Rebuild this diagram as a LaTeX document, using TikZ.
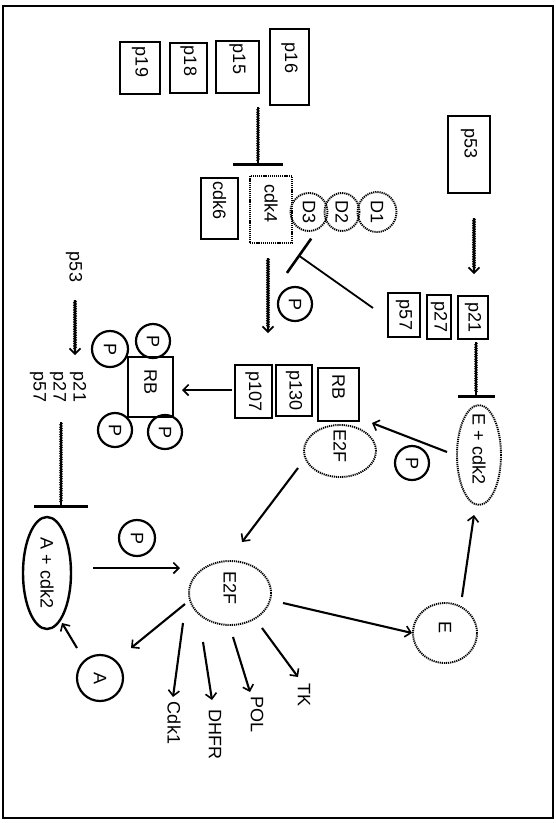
\documentclass[tikz,border=0pt]{standalone}
\usepackage{fontspec}
\setmainfont{Liberation Sans}
\usetikzlibrary{arrows.meta,decorations.pathmorphing,shapes.geometric}
\newcommand{\rtxt}[1]{\rotatebox{-90}{#1}}
\newcommand{\rtup}[2]{\raisebox{#1}[\height][\depth]{\rotatebox{-90}{#2}}}
\begin{document}
\begin{tikzpicture}[x=1pt,y=-1pt,
  txt/.style={font=\fontsize{18}{18}\selectfont, inner sep=0pt},
  box/.style={txt, draw, rectangle, line width=2.5pt},
  dotbox/.style={txt, draw, rectangle, line width=2pt, dash pattern=on 1.2pt off 0.9pt},
  dotell/.style={txt, draw, ellipse, line width=1.9pt, dash pattern=on 1.2pt off 0.9pt},
  solell/.style={txt, draw, ellipse, line width=2.4pt},
  pc/.style={txt, draw, circle, line width=2.2pt},
  arr/.style={line width=2.1pt, -{Straight Barb[length=5.5pt,width=11pt,line width=1.6pt]}},
  wavy/.style={decorate, decoration={zigzag, amplitude=0.6pt, segment length=2.4pt, pre length=1pt, post length=5pt}},
  inh/.style={line width=1.8pt, -{Bar[width=#1, line width=2.6pt]}}
]
\useasboundingbox (0,0) rectangle (556,823);
\draw[line width=1.6pt] (3,6) rectangle (553,818);

% top inhibitor boxes
\node[box, minimum width=40pt, minimum height=52pt] (p19) at (140,68) {\rtup{6pt}{p19}};
\node[box, minimum width=37pt, minimum height=50pt] (p18) at (188.5,68) {\rtup{7pt}{p18}};
\node[box, minimum width=43pt, minimum height=52pt] (p15) at (237.5,67) {\rtup{8pt}{p15}};
\node[box, minimum width=39pt, minimum height=76pt] (p16) at (289.5,67) {\rtup{9pt}{p16}};

% cdk / cyclin D
\node[box, minimum width=37pt, minimum height=61pt] (cdk6) at (219.5,208.5) {\rtup{8pt}{cdk6}};
\node[dotbox, minimum width=42pt, minimum height=67pt] (cdk4) at (271,209.5) {\rtup{6pt}{cdk4}};
\node[dotell, minimum width=37pt, minimum height=38pt] (D3) at (309,212) {\rtxt{D3}};
\node[dotell, minimum width=35pt, minimum height=38pt] (D2) at (342,212) {\rtxt{D2}};
\node[dotell, minimum width=39pt, minimum height=40pt] (D1) at (377,212) {\rtxt{D1}};

% p53 and CKIs
\node[box, minimum width=42pt, minimum height=77pt] (p53) at (469,154.5) {\rtup{11pt}{p53}};
\node[box, minimum width=30pt, minimum height=43pt] (p21) at (473,317.5) {\rtxt{p21}};
\node[box, minimum width=24pt, minimum height=44pt] (p27) at (439,317) {\rtxt{p27}};
\node[box, minimum width=32pt, minimum height=44pt] (p57) at (404,315) {\rtxt{p57}};

\node[pc, minimum size=34pt] (Pa) at (295,304) {\rtxt{P}};

% pocket proteins
\node[box, minimum width=37pt, minimum height=53pt] (p107) at (253.5,391.5) {\rtxt{p107}};
\node[box, minimum width=36pt, minimum height=51pt] (p130) at (294,390.5) {\rtxt{p130}};
\node[box, minimum width=41pt, minimum height=53pt] (RBr) at (338.5,394.5) {\rtup{8pt}{RB}};
\node[dotell, minimum width=72pt, minimum height=52pt] (E2Fu) at (340,451) {\rtup{5pt}{E2F}};
\node[pc, minimum size=34pt] (Pb) at (412,463) {\rtxt{P}};
\node[dotell, minimum width=44pt, minimum height=96pt] (Ecdk2) at (479,455) {\rtup{6pt}{E + cdk2}};

% phosphorylated RB
\node[box, minimum width=45pt, minimum height=60pt] (RBl) at (150.5,387) {\rtup{5pt}{RB}};
\node[pc, minimum size=34pt] (P1) at (153,341) {\rtxt{P}};
\node[pc, minimum size=36pt] (P2) at (110,349) {\rtxt{P}};
\node[pc, minimum size=34pt] (P3) at (115,430) {\rtxt{P}};
\node[pc, minimum size=34pt] (P4) at (165,432) {\rtxt{P}};

% left labels
\node[txt] (p53l) at (74,267) {\rtxt{p53}};
\node[txt] (p21l) at (78,387) {\rtxt{p21}};
\node[txt] (p27l) at (58,387) {\rtxt{p27}};
\node[txt] (p57l) at (38,387) {\rtxt{p57}};

% bottom
\node[dotell, minimum width=82pt, minimum height=64pt] (E2Fb) at (230,593) {\rtup{5pt}{E2F}};
\node[dotell, minimum width=64pt, minimum height=60pt] (E) at (445,633) {\rtup{6pt}{E}};
\node[solell, minimum width=48pt, minimum height=112pt] (Acdk2) at (47,573) {\rtxt{A + cdk2}};
\node[pc, minimum size=36pt] (Pc) at (137,538) {\rtxt{P}};
\node[pc, minimum size=46pt] (A) at (100,678) {\rtxt{A}};
\node[txt] (Cdk1) at (174,723) {\rtxt{Cdk1}};
\node[txt] (DHFR) at (215,734) {\rtxt{DHFR}};
\node[txt] (POL) at (257,714) {\rtxt{POL}};
\node[txt] (TK) at (304,695) {\rtxt{TK}};

% connector end points
\coordinate (i1a) at (258,107); \coordinate (i1b) at (258,166);
\coordinate (q1) at (474,218);  \coordinate (q2) at (474,274);
\coordinate (c1) at (373,308);  \coordinate (c2) at (298,255);
\coordinate (k1) at (268,258);  \coordinate (k2) at (268,333);
\coordinate (i2a) at (476,342); \coordinate (i2b) at (476,398);
\coordinate (f1) at (447,452);  \coordinate (f2) at (372,423);
\coordinate (g1) at (462,597);  \coordinate (g2) at (474,515);
\coordinate (h1) at (283,603);  \coordinate (h2) at (412,633);
\coordinate (u1) at (298,468);  \coordinate (u2) at (242,542);
\coordinate (a1) at (93,568);   \coordinate (a2) at (180,568);
\coordinate (j1) at (61,422);   \coordinate (j2) at (61,508);
\coordinate (m1) at (77,648);   \coordinate (m2) at (62,623);
\coordinate (l1) at (185,604);  \coordinate (l2) at (131,648);
\coordinate (t1a) at (183,623); \coordinate (t1b) at (173,697);
\coordinate (t2a) at (203,642); \coordinate (t2b) at (212,700);
\coordinate (t3a) at (233,637); \coordinate (t3b) at (250,692);
\coordinate (t4a) at (262,628); \coordinate (t4b) at (298,677);
\coordinate (n1) at (232,390);  \coordinate (n2) at (182,390);
\coordinate (o1) at (75,300);   \coordinate (o2) at (75,355);

% connectors
\draw[inh=50pt, wavy] (i1a) -- (i1b);
\draw[arr, wavy] (q1) -- (q2);
\draw[inh=42pt] (c1) -- (c2);
\draw[arr, wavy] (k1) -- (k2);
\draw[inh=37pt, wavy] (i2a) -- (i2b);
\draw[arr] (f1) -- (f2);
\draw[arr] (g1) -- (g2);
\draw[arr] (h1) -- (h2);
\draw[arr] (u1) -- (u2);
\draw[arr] (a1) -- (a2);
\draw[inh=54pt, wavy] (j1) -- (j2);
\draw[arr] (m1) -- (m2);
\draw[arr] (l1) -- (l2);
\draw[arr] (t1a) -- (t1b);
\draw[arr] (t2a) -- (t2b);
\draw[arr] (t3a) -- (t3b);
\draw[arr] (t4a) -- (t4b);
\draw[arr] (n1) -- (n2);
\draw[arr, wavy] (o1) -- (o2);
\end{tikzpicture}
\end{document}
